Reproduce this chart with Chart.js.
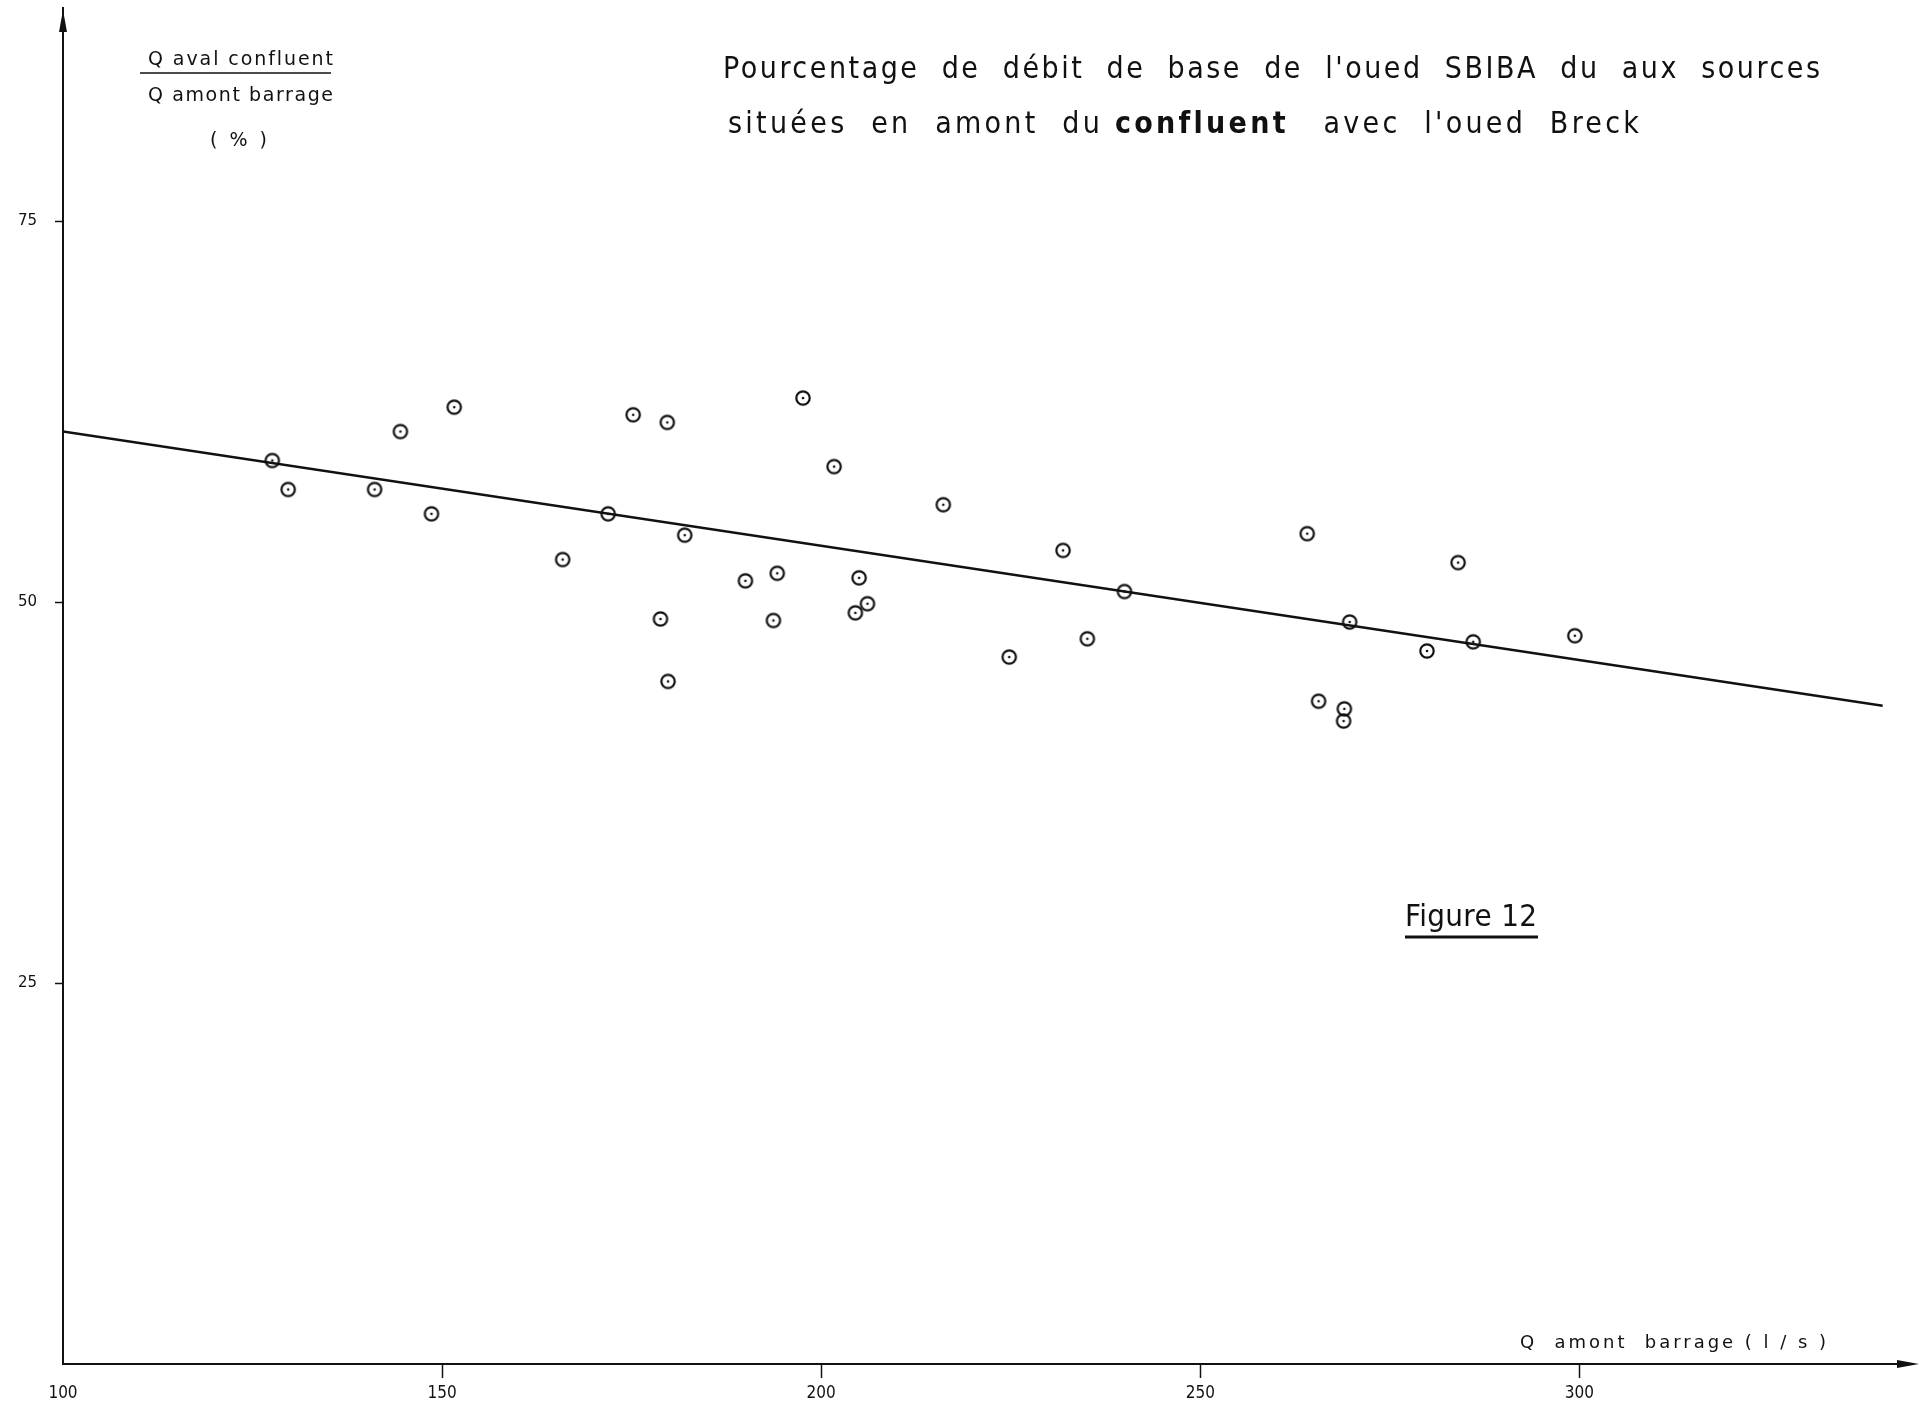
<!DOCTYPE html>
<html lang="fr">
<head>
<meta charset="utf-8">
<title>Figure 12 - Oued Sbiba</title>
<script src="https://cdn.jsdelivr.net/npm/chart.js@4.4.1/dist/chart.umd.min.js"></script>
<style>
    html, body { margin: 0; padding: 0; background: #ffffff; overflow: hidden; }
    canvas { display: block; }
</style>
</head>
<body>
<canvas id="sbibaChart" width="1922" height="1409"></canvas>
<script>
// Q amont barrage (l/s) and share of base flow at the confluence (%)
const flowUpstream = [127.6, 129.7, 141.1, 144.5, 148.6, 151.6, 165.9, 171.9, 175.2, 178.8,
    179.7, 179.8, 182.0, 190.0, 193.7, 194.2, 197.6, 201.7, 204.5, 205.0,
    206.1, 216.1, 224.8, 231.9, 235.1, 240.0, 264.1, 265.6, 269.0, 268.9,
    269.7, 279.9, 284.0, 286.0, 299.4];
const sharePercent = [59.3, 57.4, 57.4, 61.2, 55.8, 62.8, 52.8, 55.8, 62.3, 48.9,
    61.8, 44.8, 54.4, 51.4, 48.8, 51.9, 63.4, 58.9, 49.3, 51.6,
    49.9, 56.4, 46.4, 53.4, 47.6, 50.7, 54.5, 43.5, 43.0, 42.2,
    48.7, 46.8, 52.6, 47.4, 47.8];

// fitted trend line
const trendX = [100, 340];
const trendY = [61.2, 43.2];

// axis ticks
const xTicks = [100, 150, 200, 250, 300];
const yTicks = [25, 50, 75];

const INK = '#111111';

// circle with a dot in the middle, used as the point marker
function makeMarker() {
    const c = document.createElement('canvas');
    c.width = 20;
    c.height = 20;
    const g = c.getContext('2d');
    g.strokeStyle = INK;
    g.lineWidth = 2.2;
    g.beginPath();
    g.arc(10, 10, 6.7, 0, Math.PI * 2);
    g.stroke();
    g.fillStyle = INK;
    g.beginPath();
    g.arc(10, 10, 1.3, 0, Math.PI * 2);
    g.fill();
    return c;
}

// draw text pieces spread out so the whole run covers `width`
function drawSpread(ctx, parts, x, y, width) {
    ctx.save();
    ctx.letterSpacing = '0px';
    let natural = 0;
    let count = 0;
    parts.forEach(p => {
        ctx.font = p.font;
        p.w = ctx.measureText(p.text).width;
        natural += p.w;
        count += p.text.length;
    });
    const spacing = count > 1 ? (width - natural) / (count - 1) : 0;
    ctx.textAlign = 'left';
    ctx.textBaseline = 'alphabetic';
    ctx.fillStyle = INK;
    let cx = x;
    parts.forEach(p => {
        ctx.font = p.font;
        ctx.letterSpacing = spacing + 'px';
        ctx.fillText(p.text, cx, y);
        cx += p.w + spacing * p.text.length;
    });
    ctx.restore();
}

const annotations = {
    id: 'annotations',
    afterDraw(chart) {
        const ctx = chart.ctx;
        const area = chart.chartArea;

        // arrow heads on both axes
        ctx.save();
        ctx.fillStyle = INK;
        ctx.beginPath();
        ctx.moveTo(area.right + 6, area.bottom);
        ctx.lineTo(area.right - 16, area.bottom - 4);
        ctx.lineTo(area.right - 16, area.bottom + 4);
        ctx.closePath();
        ctx.fill();
        ctx.beginPath();
        ctx.moveTo(area.left, area.top + 2);
        ctx.lineTo(area.left - 4, area.top + 24);
        ctx.lineTo(area.left + 4, area.top + 24);
        ctx.closePath();
        ctx.fill();
        ctx.restore();

        const cond = '"DejaVu Sans Condensed", "DejaVu Sans", sans-serif';
        const sans = '"DejaVu Sans", sans-serif';

        // title
        drawSpread(ctx, [{ text: "Pourcentage  de  débit  de  base  de  l'oued  SBIBA  du  aux  sources", font: '30px ' + cond }],
            723, 78, 1097);
        drawSpread(ctx, [
            { text: 'situées  en  amont  du ', font: '30px ' + cond },
            { text: 'confluent', font: 'bold 30px ' + cond },
            { text: "   avec  l'oued  Breck", font: '30px ' + cond }
        ], 728, 133, 911);

        // y axis label as a ratio
        drawSpread(ctx, [{ text: 'Q aval confluent', font: '19px ' + sans }], 148, 65, 185);
        ctx.save();
        ctx.strokeStyle = INK;
        ctx.lineWidth = 1.6;
        ctx.beginPath();
        ctx.moveTo(140, 73);
        ctx.lineTo(331, 73);
        ctx.stroke();
        ctx.restore();
        drawSpread(ctx, [{ text: 'Q amont barrage', font: '19px ' + sans }], 148, 101, 185);
        drawSpread(ctx, [{ text: '( % )', font: '19px ' + sans }], 210, 146, 57);

        // x axis label
        drawSpread(ctx, [{ text: 'Q  amont  barrage ( l / s )', font: '18px ' + sans }], 1520, 1348, 306);

        // figure number, underlined
        drawSpread(ctx, [{ text: 'Figure 12', font: '31px ' + cond }], 1405, 926, 132);
        ctx.save();
        ctx.strokeStyle = INK;
        ctx.lineWidth = 3;
        ctx.beginPath();
        ctx.moveTo(1405, 937);
        ctx.lineTo(1538, 937);
        ctx.stroke();
        ctx.restore();
    }
};

function renderChart() {
    const canvas = document.getElementById('sbibaChart');
    const ctx = canvas.getContext('2d');
    const marker = makeMarker();

    const points = flowUpstream.map((x, i) => ({ x: x, y: sharePercent[i] }));
    const trend = trendX.map((x, i) => ({ x: x, y: trendY[i] }));

    new Chart(ctx, {
        type: 'scatter',
        data: {
            datasets: [
                {
                    label: 'Mesures',
                    data: points,
                    pointStyle: marker,
                    pointRadius: 7,
                    order: 1
                },
                {
                    type: 'line',
                    label: 'Droite d\'ajustement',
                    data: trend,
                    borderColor: INK,
                    borderWidth: 2.4,
                    pointRadius: 0,
                    fill: false,
                    order: 2
                }
            ]
        },
        options: {
            responsive: false,
            animation: false,
            devicePixelRatio: 1,
            layout: {
                padding: { top: 8, right: 9, left: 0, bottom: 0 }
            },
            plugins: {
                legend: { display: false },
                title: { display: false },
                tooltip: { enabled: false }
            },
            scales: {
                x: {
                    type: 'linear',
                    position: 'bottom',
                    min: 100,
                    max: 344,
                    afterBuildTicks: scale => {
                        scale.ticks = xTicks.map(v => ({ value: v }));
                    },
                    afterFit: scale => {
                        scale.height = 45;
                        scale.paddingLeft = 0;
                        scale.paddingRight = 0;
                    },
                    grid: {
                        drawOnChartArea: false,
                        drawTicks: true,
                        tickLength: 14,
                        tickWidth: 1.5,
                        tickColor: c => (c.tick && c.tick.value === 100) ? 'rgba(0,0,0,0)' : INK
                    },
                    border: { display: true, color: INK, width: 2 },
                    ticks: {
                        color: INK,
                        padding: 5,
                        maxRotation: 0,
                        autoSkip: false,
                        font: { family: '"Liberation Sans Narrow", "DejaVu Sans Condensed", sans-serif', size: 17 }
                    }
                },
                y: {
                    type: 'linear',
                    min: 0,
                    max: 89,
                    afterBuildTicks: scale => {
                        scale.ticks = yTicks.map(v => ({ value: v }));
                    },
                    afterFit: scale => {
                        scale.width = 63;
                        scale.paddingTop = 0;
                        scale.paddingBottom = 0;
                    },
                    grid: {
                        drawOnChartArea: false,
                        drawTicks: true,
                        tickLength: 8,
                        tickWidth: 1.5,
                        tickColor: INK
                    },
                    border: { display: true, color: INK, width: 2 },
                    ticks: {
                        color: INK,
                        padding: 18,
                        font: { family: '"DejaVu Sans", sans-serif', size: 15 }
                    }
                }
            }
        },
        plugins: [annotations]
    });
}

document.addEventListener('DOMContentLoaded', renderChart);
</script>
</body>
</html>
